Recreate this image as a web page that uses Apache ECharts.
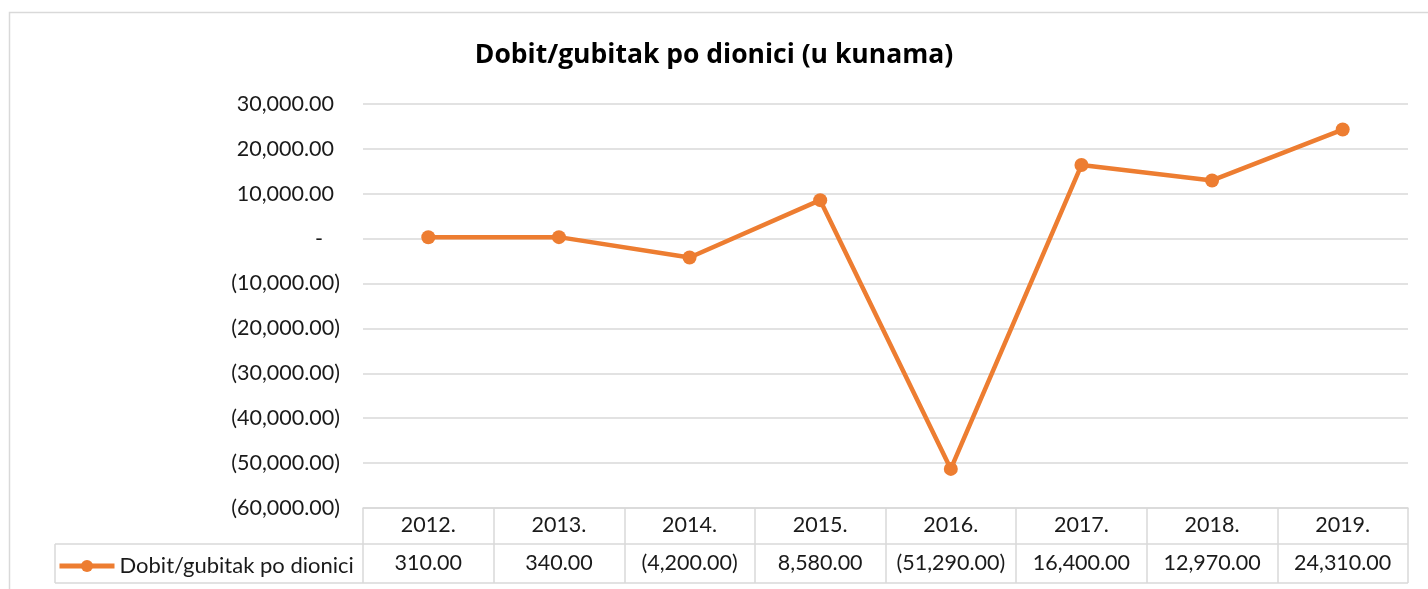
<!DOCTYPE html>
<html>
<head>
<meta charset="utf-8">
<script src="https://cdn.jsdelivr.net/npm/echarts@6/dist/echarts.min.js"></script>
<style>
  html, body { margin: 0; padding: 0; background: #fff; }
  #chart { width: 1428px; height: 589px; }
</style>
</head>
<body>
<div id="chart"></div>
<script>
// data
const years = ['2012.', '2013.', '2014.', '2015.', '2016.', '2017.', '2018.', '2019.'];
const seriesName = 'Dobit/gubitak po dionici';
const values = [310, 340, -4200, 8580, -51290, 16400, 12970, 24310];

const FONT = 'Lato, "Open Sans", sans-serif';
const GRID = '#D9D9D9';
const ORANGE = '#ED7D31';
const TXT = '#1a1a1a';

// accounting style like Excel: 1,234.00 / (1,234.00) / -
function fmt(v) {
  if (v === 0) return '-';
  let s = Math.abs(v).toLocaleString('en-US', { minimumFractionDigits: 2, maximumFractionDigits: 2 });
  return v < 0 ? '(' + s + ')' : s;
}

function yLabel(v) {
  if (v === 0) return '{v|-}{pd|}';
  if (v < 0) return '{v|' + fmt(v) + '}';
  return '{v|' + fmt(v) + '}{p|}';
}

let chartDom = document.getElementById('chart');
let myChart = echarts.init(chartDom);

let option = {
  animation: false,
  title: {
    text: 'Dobit/gubitak po dionici (u kunama)',
    left: 'center',
    top: 37,
    textStyle: { fontFamily: '"Open Sans", Lato, sans-serif', fontSize: 26.5, fontWeight: 'bold', color: '#000' },
  },
  legend: {
    left: 52,
    top: 550,
    itemWidth: 55,
    itemHeight: 15,
    lineStyle: { width: 5 },
    textStyle: { fontFamily: FONT, fontSize: 22, color: TXT },
    data: [seriesName],
  },
  grid: { left: 363, right: 20, top: 104, bottom: 81 },
  xAxis: [
    {
      type: 'category',
      data: years,
      boundaryGap: true,
      axisLine: { onZero: false, lineStyle: { color: GRID, width: 1.5 } },
      axisTick: { show: true, length: 75, lineStyle: { color: GRID, width: 1.5 } },
      axisLabel: { interval: 0, margin: 6, fontFamily: FONT, fontSize: 21.5, color: TXT },
    },
    {
      type: 'category',
      data: values.map(fmt),
      position: 'bottom',
      offset: 38,
      boundaryGap: true,
      axisLine: { show: false },
      axisTick: { show: false },
      axisLabel: { interval: 0, margin: 6, fontFamily: FONT, fontSize: 21.5, color: TXT },
    },
  ],
  yAxis: {
    type: 'value',
    min: -60000,
    max: 30000,
    interval: 10000,
    axisLine: { show: false },
    axisTick: { show: false },
    splitLine: { lineStyle: { color: GRID, width: 1.5 } },
    axisLabel: {
      margin: 23,
      formatter: yLabel,
      rich: {
        v: { fontFamily: FONT, fontSize: 21.5, color: TXT },
        p: { width: 6 },
        pd: { width: 17 },
      },
    },
  },
  graphic: [
    // outer chart frame (cut off on the right and bottom)
    { type: 'rect', shape: { x: 9.5, y: 12.5, width: 1440, height: 620 }, style: { fill: 'none', stroke: GRID, lineWidth: 1.5 }, silent: true },
    // table lines
    { type: 'line', shape: { x1: 55, y1: 544, x2: 1408, y2: 544 }, style: { stroke: GRID, lineWidth: 1.5 }, silent: true },
    { type: 'line', shape: { x1: 55, y1: 583, x2: 1408, y2: 583 }, style: { stroke: GRID, lineWidth: 1.5 }, silent: true },
    { type: 'line', shape: { x1: 55, y1: 544, x2: 55, y2: 583 }, style: { stroke: GRID, lineWidth: 1.5 }, silent: true },
  ],
  series: [
    {
      name: seriesName,
      type: 'line',
      data: values,
      symbol: 'circle',
      symbolSize: 14,
      lineStyle: { color: ORANGE, width: 4.5 },
      itemStyle: { color: ORANGE },
    },
  ],
};

myChart.setOption(option);
</script>
</body>
</html>
